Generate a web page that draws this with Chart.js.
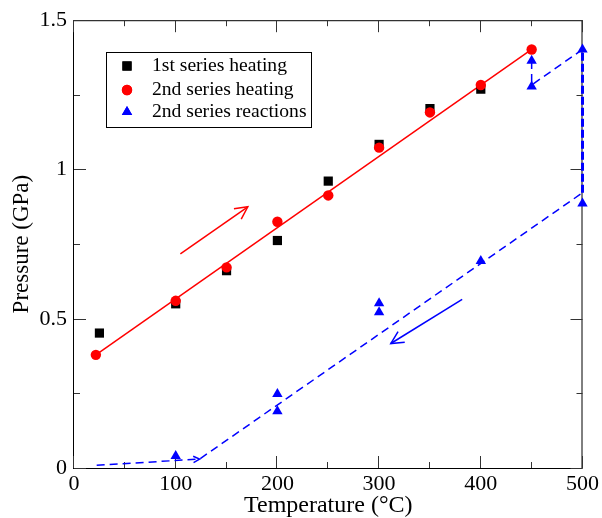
<!DOCTYPE html>
<html>
<head>
<meta charset="utf-8">
<script src="https://cdn.jsdelivr.net/npm/chart.js@4/dist/chart.umd.min.js"></script>
<style>
  html, body { margin: 0; padding: 0; background: #fff; }
  #wrap { width: 602px; height: 518px; position: relative; }
</style>
</head>
<body>
<div id="wrap"><canvas id="c" width="602" height="518"></canvas></div>
<script>
// ---- data ----
const heat1Temp      = [25, 100, 150, 200, 250, 300, 350, 400];
const heat1Pressure  = [0.452, 0.550, 0.661, 0.762, 0.961, 1.084, 1.204, 1.269];

const heat2Temp      = [21.5, 100, 150, 200, 250, 300, 350, 400, 450];
const heat2Pressure  = [0.379, 0.560, 0.672, 0.825, 0.913, 1.073, 1.191, 1.283, 1.402];

const reactTemp      = [100, 200, 200, 300, 300, 400, 450, 450, 500, 500];
const reactPressure  = [0.040, 0.248, 0.190, 0.552, 0.522, 0.693, 1.364, 1.278, 1.402, 0.886];

const fitTemp        = [21.5, 450];
const fitPressure    = [0.379, 1.402];

const coolTemp       = [22.3, 123.5, 500];
const coolPressure   = [0.009, 0.030, 0.922];
const jumpTemp       = [500, 500];
const jumpPressure   = [0.922, 1.402];
const backTemp       = [500, 450, 450];
const backPressure   = [1.402, 1.283, 1.364];

const heatArrowTemp     = [104.6, 170.9];
const heatArrowPressure = [0.717, 0.875];
const coolArrowTemp     = [381.7, 311.5];
const coolArrowPressure = [0.565, 0.417];

const xTicks = [0, 100, 200, 300, 400, 500];
const yTicks = [0, 0.5, 1, 1.5];
const legendLabels = ['1st series heating', '2nd series heating', '2nd series reactions'];
const xTitle = 'Temperature (\u00B0C)';
const yTitle = 'Pressure (GPa)';

// ---- helpers ----
const xy = (xs, ys) => xs.map((x, i) => ({ x: x, y: ys[i] }));
const SERIF = "'Liberation Serif', 'Times New Roman', serif";
const RED = '#ff0000', BLUE = '#0000ff';

function drawArrowHead(ctx, x0, y0, x1, y1, len, ang, color, w) {
  const a = Math.atan2(y1 - y0, x1 - x0);
  ctx.save();
  ctx.strokeStyle = color;
  ctx.lineWidth = w;
  ctx.setLineDash([]);
  ctx.beginPath();
  ctx.moveTo(x1 - len * Math.cos(a - ang), y1 - len * Math.sin(a - ang));
  ctx.lineTo(x1, y1);
  ctx.lineTo(x1 - len * Math.cos(a + ang), y1 - len * Math.sin(a + ang));
  ctx.stroke();
  ctx.restore();
}

const framePlugin = {
  id: 'frame',
  beforeDatasetsDraw(chart) {
    const { ctx, chartArea: ca, scales } = chart;
    const xs = scales.x, ys = scales.y;
    ctx.save();
    ctx.strokeStyle = '#000';
    ctx.lineWidth = 1;
    ctx.strokeRect(ca.left - 0.5, ca.top + 0.5, ca.right - ca.left, ca.bottom - ca.top);
    ctx.strokeStyle = '#333';
    const MAJ = 12, MIN = 6;
    ctx.beginPath();
    xTicks.forEach((v, i) => {
      const px = Math.round(xs.getPixelForValue(v)) - 0.5;
      ctx.moveTo(px, ca.bottom); ctx.lineTo(px, ca.bottom - MAJ);
      ctx.moveTo(px, ca.top); ctx.lineTo(px, ca.top + MAJ);
      if (i < xTicks.length - 1) {
        const m = Math.round(xs.getPixelForValue((v + xTicks[i + 1]) / 2)) - 0.5;
        ctx.moveTo(m, ca.bottom); ctx.lineTo(m, ca.bottom - MIN);
        ctx.moveTo(m, ca.top); ctx.lineTo(m, ca.top + MIN);
      }
    });
    yTicks.forEach((v, i) => {
      const py = Math.round(ys.getPixelForValue(v)) + 0.5;
      ctx.moveTo(ca.left, py); ctx.lineTo(ca.left + MAJ, py);
      ctx.moveTo(ca.right, py); ctx.lineTo(ca.right - MAJ, py);
      if (i < yTicks.length - 1) {
        const m = Math.round(ys.getPixelForValue((v + yTicks[i + 1]) / 2)) + 0.5;
        ctx.moveTo(ca.left, m); ctx.lineTo(ca.left + MIN, m);
        ctx.moveTo(ca.right, m); ctx.lineTo(ca.right - MIN, m);
      }
    });
    ctx.stroke();
    ctx.restore();
  },
  afterDatasetsDraw(chart) {
    const { ctx, scales } = chart;
    const X = v => scales.x.getPixelForValue(v), Y = v => scales.y.getPixelForValue(v);
    const head = (xs, ys, color, len, w) => {
      const n = xs.length;
      drawArrowHead(ctx, X(xs[n - 2]), Y(ys[n - 2]), X(xs[n - 1]), Y(ys[n - 1]), len, 27 * Math.PI / 180, color, w);
    };
    head(heatArrowTemp, heatArrowPressure, RED, 14, 1.5);
    head(coolArrowTemp, coolArrowPressure, BLUE, 14, 1.5);
    head(coolTemp.slice(0, 2), coolPressure.slice(0, 2), BLUE, 7, 1.5);
  },
  afterDraw(chart) {
    const ctx = chart.ctx;
    ctx.save();
    ctx.strokeStyle = '#000';
    ctx.lineWidth = 1;
    ctx.strokeRect(106.5, 52.5, 205, 75);
    const rows = [66, 90, 112];
    const styles = [
      { pointStyle: 'rect', radius: 6.5, color: '#000' },
      { pointStyle: 'circle', radius: 5.2, color: RED },
      { pointStyle: 'triangle', radius: 6, color: BLUE }
    ];
    styles.forEach((s, i) => {
      ctx.fillStyle = s.color;
      Chart.helpers.drawPoint(ctx, { pointStyle: s.pointStyle, radius: s.radius, borderWidth: 0, rotation: 0 }, 127, rows[i]);
      ctx.fill();
    });
    ctx.fillStyle = '#000';
    ctx.font = '19.6px ' + SERIF;
    ctx.textBaseline = 'middle';
    ctx.textAlign = 'left';
    legendLabels.forEach((t, i) => ctx.fillText(t, 152, rows[i]));
    ctx.restore();
  }
};

const lineDs = (data, color, width, dash) => ({
  data, showLine: true, borderColor: color, backgroundColor: color,
  borderWidth: width, borderDash: dash || [], pointRadius: 0, pointHoverRadius: 0,
  clip: false, tension: 0
});

new Chart(document.getElementById('c'), {
  type: 'scatter',
  data: {
    datasets: [
      { label: legendLabels[1], data: xy(heat2Temp, heat2Pressure), pointStyle: 'circle', pointRadius: 5.2,
        pointBorderWidth: 0, backgroundColor: RED, borderColor: RED, clip: false },
      { label: legendLabels[2], data: xy(reactTemp, reactPressure), pointStyle: 'triangle', pointRadius: 6,
        pointBorderWidth: 0, backgroundColor: BLUE, borderColor: BLUE, clip: false },
      { label: legendLabels[0], data: xy(heat1Temp, heat1Pressure), pointStyle: 'rect', pointRadius: 6.5,
        pointBorderWidth: 0, backgroundColor: '#000', borderColor: '#000', clip: false },
      lineDs(xy(fitTemp, fitPressure), RED, 1.5),
      lineDs(xy(coolTemp, coolPressure), BLUE, 1.5, [8, 5]),
      lineDs(xy(jumpTemp, jumpPressure), BLUE, 3, [8, 3]),
      lineDs(xy(backTemp, backPressure), BLUE, 1.5, [8, 5]),
      lineDs(xy(heatArrowTemp, heatArrowPressure), RED, 1.5),
      lineDs(xy(coolArrowTemp, coolArrowPressure), BLUE, 1.5)
    ]
  },
  options: {
    responsive: false,
    animation: false,
    devicePixelRatio: 1,
    layout: { padding: { left: 0, right: 18, top: 20, bottom: 0 } },
    plugins: { legend: { display: false }, tooltip: { enabled: false } },
    scales: {
      x: {
        type: 'linear', min: 0, max: 500,
        afterBuildTicks: s => { s.ticks = xTicks.map(v => ({ value: v })); },
        afterFit: s => { s.height = 50; },
        grid: { display: false, drawTicks: false },
        border: { display: false },
        ticks: { color: '#000', padding: 3, maxRotation: 0, font: { family: SERIF, size: 22 } },
        title: { display: true, text: xTitle, color: '#000', padding: 0,
                 font: { family: SERIF, size: 24, lineHeight: 1 } }
      },
      y: {
        type: 'linear', min: 0, max: 1.5,
        afterBuildTicks: s => { s.ticks = yTicks.map(v => ({ value: v })); },
        afterFit: s => { s.width = 74; },
        grid: { display: false, drawTicks: false },
        border: { display: false },
        ticks: { color: '#000', padding: 7, font: { family: SERIF, size: 22 },
                 callback: v => String(v) },
        title: { display: true, text: yTitle, color: '#000', padding: { top: 10, bottom: 0 },
                 font: { family: SERIF, size: 23, lineHeight: 1 } }
      }
    }
  },
  plugins: [framePlugin]
});
</script>
</body>
</html>
